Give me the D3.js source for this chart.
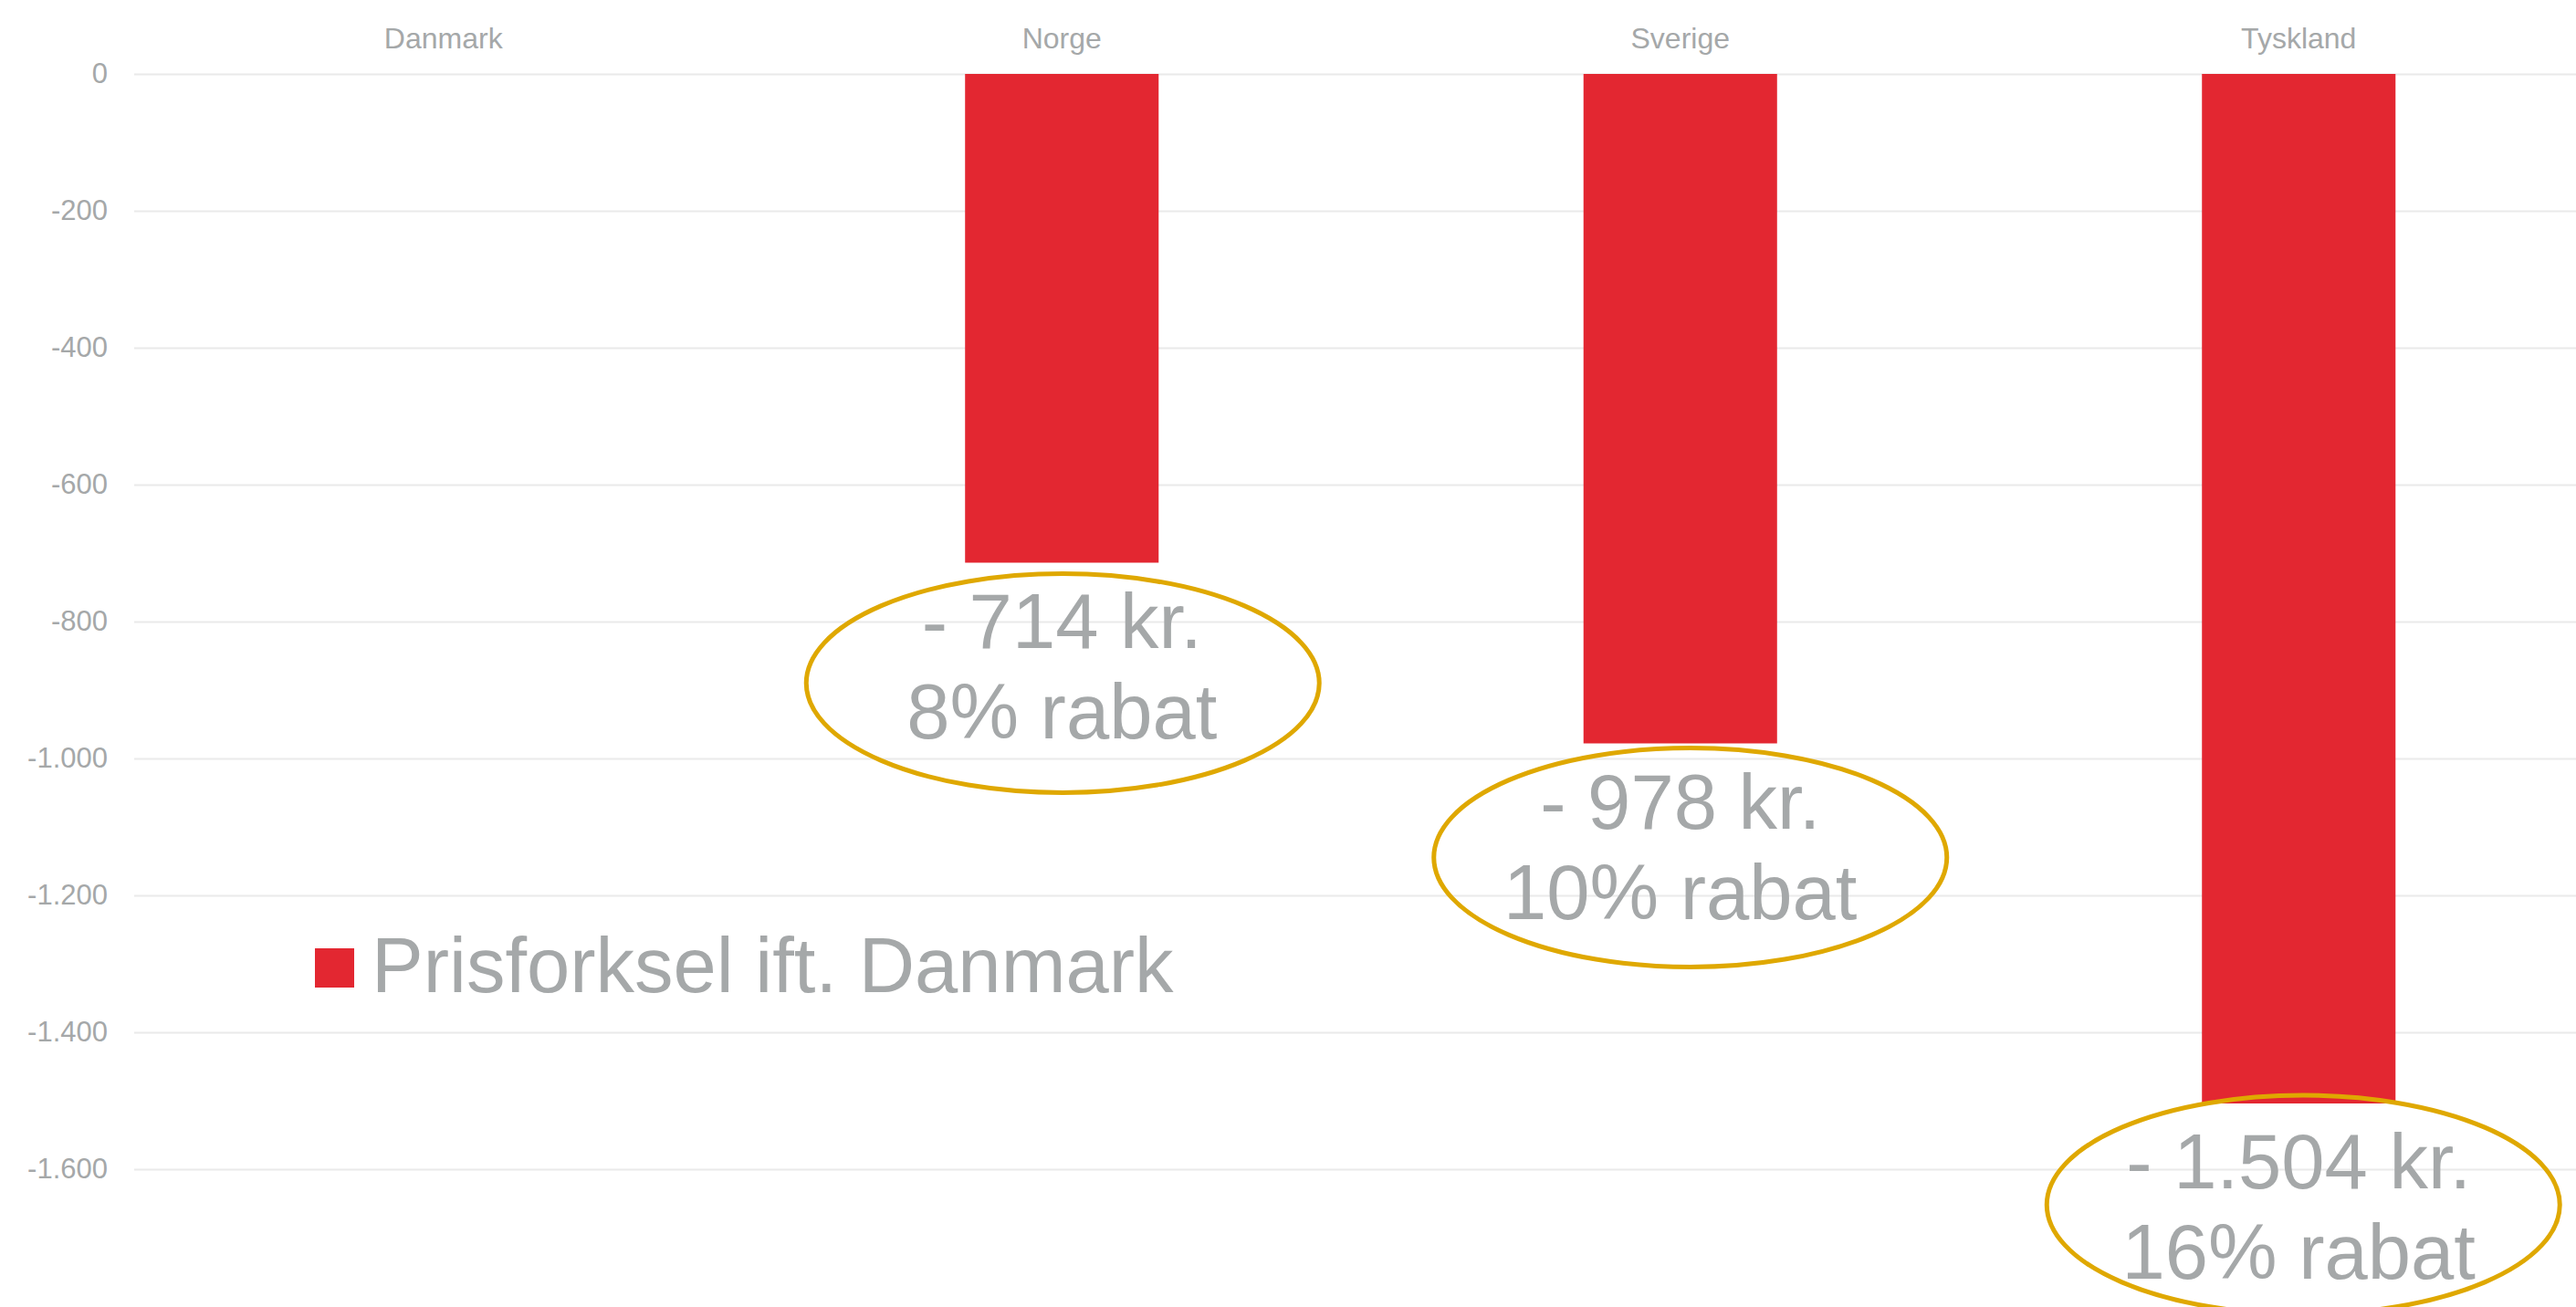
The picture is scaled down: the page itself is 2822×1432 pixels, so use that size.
<!DOCTYPE html>
<html>
<head>
<meta charset="utf-8">
<script src="https://cdn.jsdelivr.net/npm/d3@7"></script>
<style>
  body { margin: 0; background: #fff; }
  text { font-family: "Liberation Sans", Arial, sans-serif; }
</style>
</head>
<body>
<div id="canvas"></div>
<script>
// data
const countries = ["Danmark", "Norge", "Sverige", "Tyskland"];
const priceDiff = [0, -714, -978, -1504];
const discountPct = [0, 8, 10, 16];
const yTicks = [0, -200, -400, -600, -800, -1000, -1200, -1400, -1600];
const seriesName = "Prisforksel ift. Danmark";

// hand placed ellipses around the callouts: [dx, dy] from bar end
const calloutNudge = [[0, 0], [1, 132], [11, 125], [5, 111]];

const W = 2822, H = 1432;
const plot = { left: 147, right: 2857, top: 81, bottom: 1431 };
const grey = "#a5a8a9";
const red = "#e32731";
const gold = "#dfa800";

const da = d3.formatLocale({ decimal: ",", thousands: ".", grouping: [3], currency: ["", " kr."], minus: "-" });
const fmt = da.format(",");

const svg = d3.select("#canvas").append("svg")
    .attr("width", W)
    .attr("height", H);

const y = d3.scaleLinear()
    .domain([0, -1800])
    .range([plot.top, plot.bottom]);

const x = d3.scaleBand()
    .domain(countries)
    .range([plot.left, plot.right])
    .paddingInner(0.687)
    .paddingOuter(0.3435);

// y axis + gridlines
const yAxis = svg.append("g")
    .attr("class", "y axis")
    .attr("transform", `translate(${plot.left},0)`)
    .call(d3.axisLeft(y)
        .tickValues(yTicks)
        .tickFormat(fmt)
        .tickSize(-(W - plot.left))
        .tickPadding(29));
yAxis.select(".domain").remove();
yAxis.selectAll("line").attr("stroke", "#eaeaea").attr("stroke-width", 2);
yAxis.selectAll("text")
    .attr("fill", grey)
    .style("font-size", "31px");

// categories on top
const xAxis = svg.append("g")
    .attr("class", "x axis")
    .attr("transform", `translate(0,${plot.top})`)
    .call(d3.axisTop(x).tickSize(0).tickPadding(28));
xAxis.select(".domain").remove();
xAxis.selectAll("text")
    .attr("fill", grey)
    .style("font-size", "32px");

const rows = countries.map((c, i) => ({ name: c, value: priceDiff[i], pct: discountPct[i], nudge: calloutNudge[i] }));

svg.selectAll("rect.bar")
    .data(rows)
    .enter().append("rect")
    .attr("class", "bar")
    .attr("x", d => x(d.name))
    .attr("y", y(0))
    .attr("width", x.bandwidth())
    .attr("height", d => y(d.value) - y(0))
    .attr("fill", red);

// callouts
const callouts = svg.selectAll("g.callout")
    .data(rows.filter(d => d.value < 0))
    .enter().append("g")
    .attr("class", "callout");

callouts.append("ellipse")
    .attr("cx", d => x(d.name) + x.bandwidth() / 2 + d.nudge[0])
    .attr("cy", d => y(d.value) + d.nudge[1])
    .attr("rx", 281)
    .attr("ry", 120)
    .attr("fill", "none")
    .attr("stroke", gold)
    .attr("stroke-width", 5);

callouts.append("text")
    .attr("x", d => x(d.name) + x.bandwidth() / 2)
    .attr("y", d => y(d.value) + 93)
    .attr("text-anchor", "middle")
    .attr("fill", grey)
    .style("font-size", "85px")
    .text(d => "- " + fmt(-d.value) + " kr.");

callouts.append("text")
    .attr("x", d => x(d.name) + x.bandwidth() / 2)
    .attr("y", d => y(d.value) + 192)
    .attr("text-anchor", "middle")
    .attr("fill", grey)
    .style("font-size", "85px")
    .text(d => d.pct + "% rabat");

// legend
const legend = svg.append("g")
    .attr("transform", "translate(345,1039)");
legend.append("rect")
    .attr("width", 43)
    .attr("height", 43)
    .attr("fill", red);
legend.append("text")
    .attr("x", 62)
    .attr("y", 48)
    .attr("fill", grey)
    .style("font-size", "85px")
    .text(seriesName);
</script>
</body>
</html>
